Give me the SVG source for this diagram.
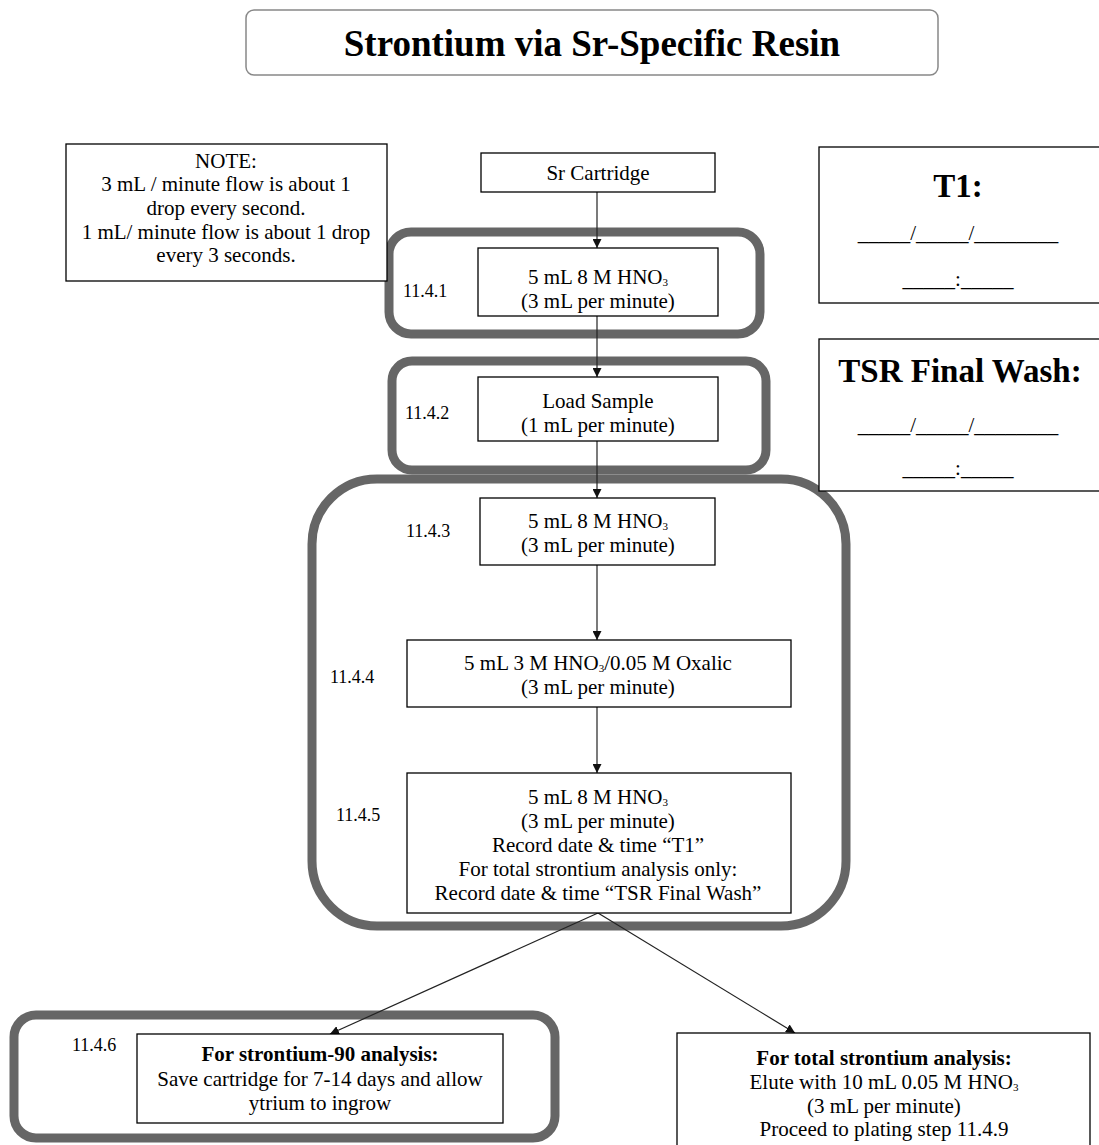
<svg xmlns="http://www.w3.org/2000/svg" width="1099" height="1145" viewBox="0 0 1099 1145">
<defs>
<style>
text{font-family:"Liberation Serif","Times New Roman",serif;fill:#000}
.t{font-size:21px;text-anchor:middle}
.lbl{font-size:18px}
.b{font-weight:bold}
.sub{font-size:11px}
.box{fill:#fff;stroke:#000;stroke-width:1.3}
.grp{fill:none;stroke:#666;stroke-width:9}
.con{fill:none;stroke:#222;stroke-width:1.2}
</style>
<marker id="ah" viewBox="0 0 10 10" refX="10" refY="5" markerWidth="9" markerHeight="9" markerUnits="userSpaceOnUse" orient="auto">
<path d="M0,0 L10,5 L0,10 z" fill="#111"/>
</marker>
</defs>
<rect width="1099" height="1145" fill="#fff"/>

<g id="title">
<rect x="246" y="10" width="692" height="65" rx="8" fill="#fff" stroke="#888" stroke-width="1.5"/>
<text x="592" y="56" class="b" font-size="37" text-anchor="middle">Strontium via Sr-Specific Resin</text>
</g>

<g id="groups">
<rect id="grp-1141" x="389" y="232" width="371" height="102" rx="22" class="grp"/>
<rect id="grp-1142" x="392" y="361" width="374" height="109" rx="20" class="grp"/>
<rect id="grp-1143" x="312" y="479" width="534" height="447" rx="65" class="grp"/>
<rect id="grp-1146" x="14" y="1015" width="541" height="123" rx="22" class="grp"/>
</g>

<g id="note">
<rect x="66" y="144" width="321" height="137" class="box"/>
<text class="t" x="226" y="168">NOTE:</text>
<text class="t" x="226" y="191">3 mL / minute flow is about 1</text>
<text class="t" x="226" y="215">drop every second.</text>
<text class="t" x="226" y="239">1 mL/ minute flow is about 1 drop</text>
<text class="t" x="226" y="262">every 3 seconds.</text>
</g>

<g id="t1">
<rect x="819" y="147" width="300" height="156" class="box"/>
<text x="958" y="197" class="b" font-size="33" text-anchor="middle">T1:</text>
<text class="t" x="958" y="240">_____/_____/________</text>
<text class="t" x="958" y="286">_____:_____</text>
</g>

<g id="tsr">
<rect x="819" y="339" width="300" height="152" class="box"/>
<text x="960" y="382" class="b" font-size="33" text-anchor="middle">TSR Final Wash:</text>
<text class="t" x="958" y="432">_____/_____/________</text>
<text class="t" x="958" y="475">_____:_____</text>
</g>

<g id="connectors">
<line x1="597" y1="192" x2="597" y2="248" class="con" marker-end="url(#ah)"/>
<line x1="597" y1="316" x2="597" y2="377" class="con" marker-end="url(#ah)"/>
<line x1="597" y1="441" x2="597" y2="498" class="con" marker-end="url(#ah)"/>
<line x1="597" y1="565" x2="597" y2="640" class="con" marker-end="url(#ah)"/>
<line x1="597" y1="707" x2="597" y2="773" class="con" marker-end="url(#ah)"/>
<line x1="598" y1="913" x2="330" y2="1034" class="con" marker-end="url(#ah)"/>
<line x1="598" y1="913" x2="795" y2="1033" class="con" marker-end="url(#ah)"/>
</g>

<g id="sr-cartridge">
<rect x="481" y="153" width="234" height="39" class="box"/>
<text class="t" x="598" y="180">Sr Cartridge</text>
</g>

<g id="step-1141">
<rect x="478" y="248" width="240" height="68" class="box"/>
<text class="lbl" x="403" y="297">11.4.1</text>
<text class="t" x="598" y="284">5 mL 8 M HNO<tspan class="sub" dy="2">3</tspan></text>
<text class="t" x="598" y="308">(3 mL per minute)</text>
</g>

<g id="step-1142">
<rect x="478" y="377" width="240" height="64" class="box"/>
<text class="lbl" x="405" y="419">11.4.2</text>
<text class="t" x="598" y="408">Load Sample</text>
<text class="t" x="598" y="432">(1 mL per minute)</text>
</g>

<g id="step-1143">
<rect x="480" y="498" width="235" height="67" class="box"/>
<text class="lbl" x="406" y="537">11.4.3</text>
<text class="t" x="598" y="528">5 mL 8 M HNO<tspan class="sub" dy="2">3</tspan></text>
<text class="t" x="598" y="552">(3 mL per minute)</text>
</g>

<g id="step-1144">
<rect x="407" y="640" width="384" height="67" class="box"/>
<text class="lbl" x="330" y="683">11.4.4</text>
<text class="t" x="598" y="670">5 mL 3 M HNO<tspan class="sub" dy="2">3</tspan><tspan dy="-2">/0.05 M Oxalic</tspan></text>
<text class="t" x="598" y="694">(3 mL per minute)</text>
</g>

<g id="step-1145">
<rect x="407" y="773" width="384" height="140" class="box"/>
<text class="lbl" x="336" y="821">11.4.5</text>
<text class="t" x="598" y="804">5 mL 8 M HNO<tspan class="sub" dy="2">3</tspan></text>
<text class="t" x="598" y="828">(3 mL per minute)</text>
<text class="t" x="598" y="852">Record date &amp; time “T1”</text>
<text class="t" x="598" y="876">For total strontium analysis only:</text>
<text class="t" x="598" y="900">Record date &amp; time “TSR Final Wash”</text>
</g>

<g id="step-1146">
<rect x="137" y="1034" width="366" height="89" class="box"/>
<text class="lbl" x="72" y="1051">11.4.6</text>
<text class="t b" x="320" y="1061">For strontium-90 analysis:</text>
<text class="t" x="320" y="1086">Save cartridge for 7-14 days and allow</text>
<text class="t" x="320" y="1110">ytrium to ingrow</text>
</g>

<g id="total-sr">
<rect x="677" y="1033" width="413" height="130" class="box"/>
<text class="t b" x="884" y="1065">For total strontium analysis:</text>
<text class="t" x="884" y="1089">Elute with 10 mL 0.05 M HNO<tspan class="sub" dy="2">3</tspan></text>
<text class="t" x="884" y="1113">(3 mL per minute)</text>
<text class="t" x="884" y="1136">Proceed to plating step 11.4.9</text>
</g>
</svg>
